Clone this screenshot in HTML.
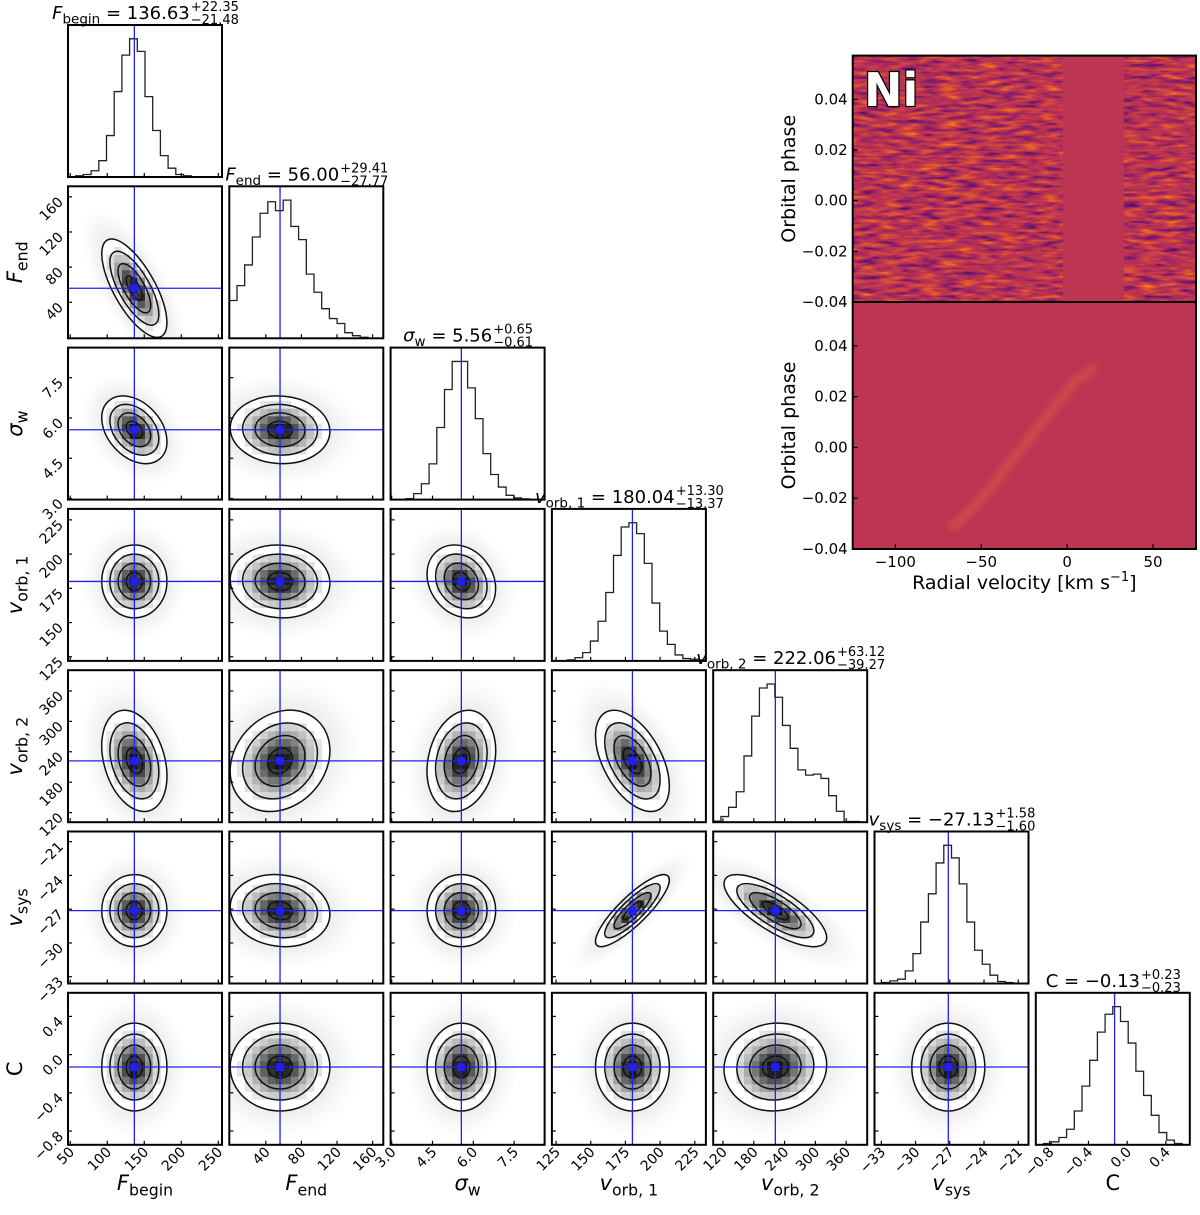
<!DOCTYPE html>
<html><head><meta charset="utf-8"><style>
html,body{margin:0;padding:0;background:#fff;}
svg{display:block;font-family:"DejaVu Sans","Liberation Sans",sans-serif;}
</style></head><body>
<svg id="fig" width="1200" height="1215" viewBox="0 0 1200 1215" xmlns="http://www.w3.org/2000/svg">
<defs>
<radialGradient id="halo"><stop offset="0" stop-color="#999" stop-opacity="0.45"/><stop offset="0.6" stop-color="#aaa" stop-opacity="0.22"/><stop offset="1" stop-color="#ccc" stop-opacity="0"/></radialGradient>
<filter id="noise" x="0" y="0" width="100%" height="100%" color-interpolation-filters="sRGB">
<feTurbulence type="fractalNoise" baseFrequency="0.05 0.25" numOctaves="2" seed="7"/>
<feColorMatrix type="matrix" values="1 0 0 0 0  1 0 0 0 0  1 0 0 0 0  0 0 0 0 1"/>
<feComponentTransfer>
<feFuncR type="table" tableValues="0.2 0.3 0.5 0.68 0.77 0.88 0.97 1"/>
<feFuncG type="table" tableValues="0.04 0.06 0.11 0.17 0.23 0.34 0.5 0.7"/>
<feFuncB type="table" tableValues="0.35 0.42 0.42 0.35 0.29 0.18 0.08 0.05"/>
</feComponentTransfer>
</filter>
<filter id="blur"><feGaussianBlur stdDeviation="3"/></filter>
</defs>
</svg>
<script>
// ---------- data ----------
const paramNames = ["Fbegin","Fend","sigmaw","vorb1","vorb2","vsys","C"];
const medians = [136.63, 56.00, 5.56, 180.04, 222.06, -27.13, -0.13];
const errPlus = ["22.35","29.41","0.65","13.30","63.12","1.58","0.23"];
const errMinus = ["21.48","27.77","0.61","13.37","39.27","1.60","0.23"];
const medianLabels = ["136.63","56.00","5.56","180.04","222.06","\u221227.13","\u22120.13"];
const spreads = [22, 28, 0.63, 13.3, 50, 1.6, 0.23];
const rangesLo = [47, -1, 2.96, 122, 101, -33.6, -0.944];
const rangesHi = [255, 172, 8.62, 233, 401, -20.1, 0.647];
const ticksFbegin = [50,100,150,200,250];
const ticksFend = [40,80,120,160];
const ticksSigma = [3.0,4.5,6.0,7.5];
const ticksVorb1 = [125,150,175,200,225];
const ticksVorb2 = [120,180,240,300,360];
const ticksVsys = [-33,-30,-27,-24,-21];
const ticksC = [-0.8,-0.4,0.0,0.4];
const tickLabelsSigma = ["3.0","4.5","6.0","7.5"];
const tickLabelsC = ["\u22120.8","\u22120.4","0.0","0.4"];
const histFbegin = [0,1,2,5,13,33,68,97,110,100,64,37,17,7,2,1,0,0,0,0];
const histFend = [115,160,223,308,380,415,388,420,340,300,195,140,90,60,45,17,8,3,0,0];
const histSigma = [0,0,3,18,48,108,218,333,418,418,338,245,139,76,38,13,5,2,0,0];
const histVorb1 = [0,0,3,10,25,60,120,207,319,405,418,385,295,175,90,50,18,7,5,3];
const histVorb2 = [3,17,45,92,200,320,405,417,377,292,223,158,142,145,132,80,33,2,2,0];
const histVsys = [0,3,8,13,38,90,185,270,363,416,378,300,185,100,58,25,6,3,1,0];
const histC = [0,4,9,22,47,102,177,255,340,394,417,372,307,222,149,89,37,14,4,0];
// correlation coefficients rho[i][j] (lower triangle)
const rhoRow1 = [-0.7];
const rhoRow2 = [-0.35, -0.05];
const rhoRow3 = [0.0, -0.05, -0.2];
const rhoRow4 = [-0.3, 0.2, 0.2, -0.5];
const rhoRow5 = [0.0, -0.1, 0.0, 0.85, -0.75];
const rhoRow6 = [0.0, 0.0, 0.0, 0.0, 0.05, 0.0];
// right panel
const rvTicks = [-100,-50,0,50];
const rvTickLabels = ["\u2212100","\u221250","0","50"];
const phaseTicks = [-0.04,-0.02,0.00,0.02,0.04];
const phaseTickLabels = ["\u22120.04","\u22120.02","0.00","0.02","0.04"];
const maskedBand = [-2.5, 33];
const trailRV = [-66,-55,-40,-25,-10,5,15];
const trailPhase = [-0.031,-0.024,-0.012,0.001,0.014,0.026,0.031];

const allTicks=[ticksFbegin,ticksFend,ticksSigma,ticksVorb1,ticksVorb2,ticksVsys,ticksC];
const allHists=[histFbegin,histFend,histSigma,histVorb1,histVorb2,histVsys,histC];
const allRho=[[],rhoRow1,rhoRow2,rhoRow3,rhoRow4,rhoRow5,rhoRow6];
function tickLabel(k,v,idx){ if(k===2) return tickLabelsSigma[idx]; if(k===6) return tickLabelsC[idx]; return (v<0?"\u2212":"")+Math.abs(v); }

// ---------- helpers ----------
const NS="http://www.w3.org/2000/svg";
const svg=document.getElementById('fig');
function mk(tag,attrs,parent){const e=document.createElementNS(NS,tag);for(const k in attrs)e.setAttribute(k,attrs[k]);(parent||svg).appendChild(e);return e;}
const W=154,H=152;
function colX(j){return 68+161.3*j;}
function rowY(i){return 25+161.3*i;}
function sx(k,v,j){return colX(j)+(v-rangesLo[k])/(rangesHi[k]-rangesLo[k])*W;}
function sy(k,v,i){return rowY(i)+H-(v-rangesLo[k])/(rangesHi[k]-rangesLo[k])*H;}

const symHTML=[["F","begin"],["F","end"],["\u03c3","w"],["v","orb, 1"],["v","orb, 2"],["v","sys"],["C",""]];
function labelText(parent,x,y,k,size,anchor,transform){
  const t=mk('text',{x:x,y:y,'font-size':size,'text-anchor':anchor||'middle',fill:'#000'},parent);
  if(transform)t.setAttribute('transform',transform);
  const a=mk('tspan',{},t); a.textContent=symHTML[k][0];
  if(k!==6)a.setAttribute('font-style','italic');
  if(symHTML[k][1]){const b=mk('tspan',{'font-size':size*0.75,dy:size*0.25},t);b.textContent=symHTML[k][1];}
  return t;
}

// ---------- corner plot ----------
let clipId=0;
for(let i=0;i<7;i++){
  for(let j=0;j<=i;j++){
    const g=mk('g',{});
    
    
    const x0=colX(j),y0=rowY(i);
    clipId++;
    const cp=mk('clipPath',{id:'c'+clipId},g); mk('rect',{x:x0,y:y0,width:W,height:H},cp);
    const inner=mk('g',{'clip-path':'url(#c'+clipId+')'},g);
    if(i===j){
      const h=allHists[i];const mx=Math.max(...h);const nb=h.length;
      let d='M'+x0+','+(y0+H);
      for(let b=0;b<nb;b++){
        const xa=x0+b*W/nb, xb=x0+(b+1)*W/nb, yy=y0+H-h[b]/(mx*1.1)*H;
        d+=' L'+xa+','+yy+' L'+xb+','+yy;
      }
      const p=mk('path',{d:d,fill:'none',stroke:'#222','stroke-width':1.3},inner);
      
      
      const bx=sx(j,medians[j],j);
      const bl=mk('line',{x1:bx,x2:bx,y1:y0,y2:y0+H,stroke:'#2020ee','stroke-width':1.3},inner);
      
      
      // title
      const tg=mk('g',{},g);
      
      
      const t=labelText(tg,0,y0-6,i,18,'start');
      const tail=mk('tspan',{dy:(symHTML[i][1]?-18*0.25:0)},t); tail.textContent=' = '+medianLabels[i];
      const wMain=t.getComputedTextLength();
      const sp=mk('text',{y:y0-14,'font-size':13},tg); sp.textContent='+'+errPlus[i];
      const sm=mk('text',{y:y0-1,'font-size':13},tg); sm.textContent='\u2212'+errMinus[i];
      const wS=Math.max(sp.getComputedTextLength(),sm.getComputedTextLength());
      const start=x0+W/2-(wMain+wS)/2;
      t.setAttribute('x',start); sp.setAttribute('x',start+wMain+1); sm.setAttribute('x',start+wMain+1);
    } else {
      const kx=W/(rangesHi[j]-rangesLo[j]), ky=H/(rangesHi[i]-rangesLo[i]);
      const rho=allRho[i][j];
      const ax=spreads[j]*kx, ay=spreads[i]*ky;
      const a=ax*ax,b=ay*ay,c=-rho*ax*ay;
      const th=0.5*Math.atan2(2*c,a-b);
      const s=Math.sqrt(((a-b)/2)**2+c*c);
      const r1=Math.sqrt((a+b)/2+s), r2=Math.sqrt(Math.max((a+b)/2-s,1));
      const cx=sx(j,medians[j],j), cy=sy(i,medians[i],i);
      const rot='rotate('+(th*180/Math.PI)+' '+cx+' '+cy+')';
      const halo=mk('ellipse',{cx:cx,cy:cy,rx:r1*3.3,ry:r2*3.3,fill:'url(#halo)',transform:rot},inner);
      
      
      mk('ellipse',{cx:cx,cy:cy,rx:r1*2,ry:r2*2,fill:'#fff',transform:rot},inner);
      const nb=20;
      for(let bxI=0;bxI<nb;bxI++)for(let byI=0;byI<nb;byI++){
        const xv=rangesLo[j]+(bxI+0.5)*(rangesHi[j]-rangesLo[j])/nb;
        const yv=rangesLo[i]+(byI+0.5)*(rangesHi[i]-rangesLo[i])/nb;
        const z1=(xv-medians[j])/spreads[j], z2=(yv-medians[i])/spreads[i];
        const m=(z1*z1-2*rho*z1*z2+z2*z2)/(1-rho*rho);
        if(m>2.6)continue;
        const lum=Math.round(255*(1-0.95*Math.exp(-m*0.9)));
        const cw=W/nb,ch=H/nb;
        const r=mk('rect',{x:x0+bxI*cw,y:y0+H-(byI+1)*ch,width:cw+0.3,height:ch+0.3,fill:'rgb('+lum+','+lum+','+lum+')'},inner);
        
        
      }
      [0.5,1,1.5,2].forEach(kk=>{
        const e=mk('ellipse',{cx:cx,cy:cy,rx:r1*kk,ry:r2*kk,fill:'none',stroke:'#111','stroke-width':1.5,transform:rot},inner);
        
        
      });
      const vl=mk('line',{x1:cx,x2:cx,y1:y0,y2:y0+H,stroke:'#2020ee','stroke-width':1.3},inner);
      
      
      const hl=mk('line',{x1:x0,x2:x0+W,y1:cy,y2:cy,stroke:'#2020ee','stroke-width':1.3},inner);
      
      
      const mkr=mk('rect',{x:cx-4,y:cy-4,width:8,height:8,fill:'#2020ee'},inner);
      
      
      // left ticks
      allTicks[i].forEach((v,idx)=>{
        const yy=sy(i,v,i);
        mk('line',{x1:x0,x2:x0+4,y1:yy,y2:yy,stroke:'#000','stroke-width':1.2},g);
        if(j===0){
          const tl=mk('text',{x:x0-4,y:yy+6,'font-size':14,'text-anchor':'end',transform:'rotate(-45 '+(x0-4)+' '+(yy+6)+')'},g);
          tl.textContent=tickLabel(i,v,idx);
          
          
        }
      });
    }
    // bottom ticks
    allTicks[j].forEach((v,idx)=>{
      const xx=sx(j,v,j);
      mk('line',{x1:xx,x2:xx,y1:y0+H,y2:y0+H-4,stroke:'#000','stroke-width':1.2},g);
      if(i===6){
        const tl=mk('text',{x:xx+5,y:y0+H+8,'font-size':14,'text-anchor':'end',transform:'rotate(-45 '+(xx+5)+' '+(y0+H+8)+')'},g);
        tl.textContent=tickLabel(j,v,idx);
        
        
      }
    });
    const fr=mk('rect',{x:x0,y:y0,width:W,height:H,fill:'none',stroke:'#000','stroke-width':2},g);
    
    
  }
}
// axis labels
for(let k=0;k<7;k++){
  const t=labelText(svg,colX(k)+W/2,1190,k,21,'middle');
  
  
}
for(let k=1;k<7;k++){
  const cy=rowY(k)+H/2;
  const t=labelText(svg,0,0,k,21,'middle','translate(22 '+cy+') rotate(-90)');
  
  
}

// ---------- right panels ----------
const RX0=852.7,RX1=1196,rvLo=-124.8,rvHi=75;
const top0=55.6,mid=302,bot=549,phLo=-0.04,phHi=0.0573;
function rx(v){return RX0+(v-rvLo)/(rvHi-rvLo)*(RX1-RX0);}
function ryT(p){return mid-(p-phLo)/(phHi-phLo)*(mid-top0);}
function ryB(p){return bot-(p-phLo)/(phHi-phLo)*(bot-mid);}
const base='#bc3552';
const gt=mk('g',{});  
mk('rect',{x:RX0,y:top0,width:RX1-RX0,height:mid-top0,fill:base},gt);
const nz=mk('rect',{x:RX0,y:top0,width:RX1-RX0,height:mid-top0,filter:'url(#noise)'},gt);
 
const band=mk('rect',{x:rx(maskedBand[0]),y:top0,width:rx(maskedBand[1])-rx(maskedBand[0]),height:mid-top0,fill:base},gt);
 
const ni=mk('text',{x:864,y:106,'font-size':46,'font-weight':'bold',fill:'#fff',stroke:'#000','stroke-width':2.5,'paint-order':'stroke'},gt);
ni.textContent='Ni';  
const gb=mk('g',{});  
mk('rect',{x:RX0,y:mid,width:RX1-RX0,height:bot-mid,fill:base},gb);
let td='';trailRV.forEach((v,q)=>{td+=(q?' L':'M')+rx(v)+','+ryB(trailPhase[q]);});
const tr=mk('path',{d:td,fill:'none',stroke:'#dc5a40','stroke-width':10,'stroke-linecap':'round','stroke-opacity':0.5,filter:'url(#blur)'},gb);
 
[[top0,mid,ryT],[mid,bot,ryB]].forEach(([a,b,f],pi)=>{
  mk('rect',{x:RX0,y:a,width:RX1-RX0,height:b-a,fill:'none',stroke:'#000','stroke-width':2});
  phaseTicks.forEach((p,q)=>{
    const yy=f(p);
    mk('line',{x1:RX0,x2:RX0+5,y1:yy,y2:yy,stroke:'#000','stroke-width':1.2});
    const t=mk('text',{x:RX0-5,y:yy+5,'font-size':15,'text-anchor':'end'});
    t.textContent=phaseTickLabels[q];
     
  });
  const yl=mk('text',{x:0,y:0,'font-size':19,'text-anchor':'middle',transform:'translate(795 '+((a+b)/2)+') rotate(-90)'});
  yl.textContent='Orbital phase';
   
});
rvTicks.forEach((v,q)=>{
  const xx=rx(v);
  mk('line',{x1:xx,x2:xx,y1:bot,y2:bot-5,stroke:'#000','stroke-width':1.2});
  const t=mk('text',{x:xx,y:bot+18,'font-size':15,'text-anchor':'middle'});
  t.textContent=rvTickLabels[q];
   
});
const xl=mk('text',{x:(RX0+RX1)/2,y:bot+40,'font-size':19,'text-anchor':'middle'});
 
xl.textContent='Radial velocity [km s';
const sup=mk('tspan',{'font-size':13,dy:-8},xl); sup.textContent='\u22121';
const cl=mk('tspan',{dy:8},xl); cl.textContent=']';
</script>
</body></html>
